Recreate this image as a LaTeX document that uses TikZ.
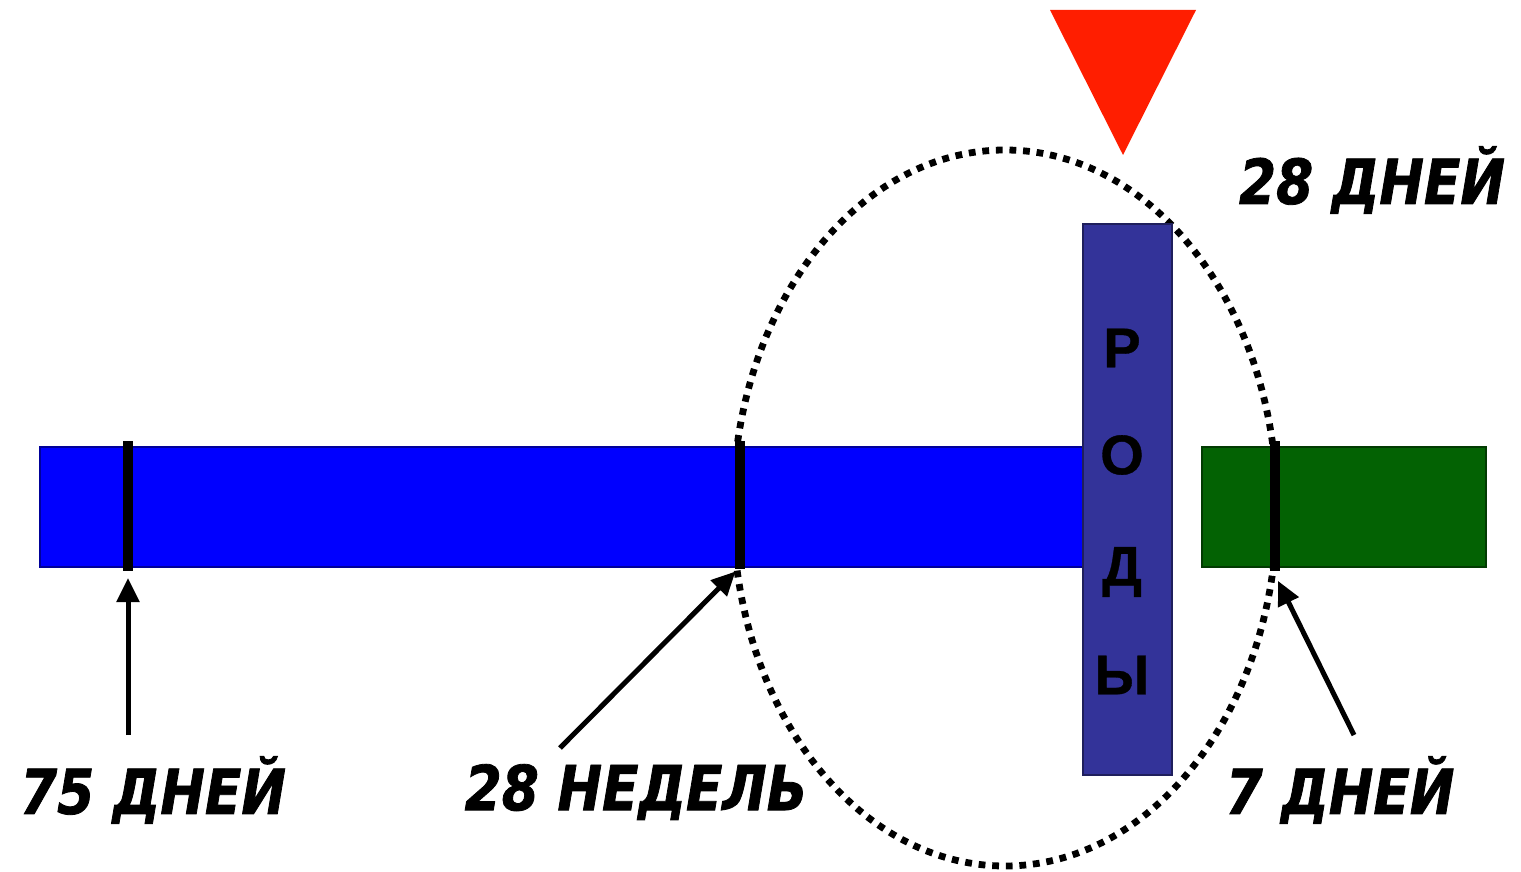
\documentclass[tikz,border=0pt]{standalone}
\usepackage{fontspec}
\usetikzlibrary{arrows.meta}
\newfontfamily\labfont[FakeStretch=0.86,FakeBold=1.3]{DejaVu Sans Bold Oblique}
\newfontfamily\rodyfont[FakeBold=0.6]{Liberation Sans Bold}
\definecolor{barblue}{HTML}{0000FF}
\definecolor{bargreen}{HTML}{036203}
\definecolor{rodyblue}{HTML}{333399}
\definecolor{trired}{HTML}{FF1E00}
\tikzset{
  bar/.style={draw=#1!60!black, line width=0.8pt, fill=#1, inner sep=0, outer sep=0},
  tick/.style={line width=5pt, black},
  pointer/.style={line width=2.5pt, black, -{Triangle[length=12pt,width=11pt]}, shorten >=1pt},
  lab/.style={font=\labfont\fontsize{31pt}{31pt}\selectfont, inner sep=0, text=black},
  rody/.style={font=\rodyfont\fontsize{28pt}{28pt}\selectfont, inner sep=0, text=black},
  dotring/.style={line width=3.4pt, dash pattern=on 3.4pt off 3.4pt},
}
\begin{document}
\begin{tikzpicture}[x=0.5pt,y=-0.5pt]
\useasboundingbox (0,0) rectangle (1521,872);
% dotted ellipse (behind the bars)
\coordinate (ec) at (1005,508);
\draw[dotring] (ec) ellipse [x radius=272, y radius=358];
% bars
\node[bar=barblue, minimum width=525pt, minimum height=60pt, anchor=north west] (blue) at (40,447) {};
\node[bar=bargreen, minimum width=142pt, minimum height=60pt, anchor=north west] (green) at (1202,447) {};
\node[bar=rodyblue, minimum width=44.5pt, minimum height=275.5pt, anchor=north west] (rody) at (1083,224) {};
\node[rody] (r1) at (1122,348) {Р};
\node[rody] (r2) at (1122,455) {О};
\node[rody] (r3) at (1122,572) {Д};
\node[rody] (r4) at (1122,675) {Ы};
% ticks
\coordinate (t1t) at (128,441); \coordinate (t1b) at (128,571);
\coordinate (t2t) at (740,441); \coordinate (t2b) at (740,569);
\coordinate (t3t) at (1275,441); \coordinate (t3b) at (1275,571);
\draw[tick] (t1t) -- (t1b);
\draw[tick] (t2t) -- (t2b);
\draw[tick] (t3t) -- (t3b);
% triangle
\coordinate (ta) at (1050,10); \coordinate (tb) at (1196,10); \coordinate (tc) at (1123,155);
\fill[trired] (ta) -- (tb) -- (tc) -- cycle;
% labels
\node[lab] (l1) at (153,790) {75 ДНЕЙ};
\node[lab] (l2) at (636,792) {28 НЕДЕЛЬ};
\node[lab] (l3) at (1340,790) {7 ДНЕЙ};
\node[lab] (l4) at (1372,180) {28 ДНЕЙ};
% arrows
\coordinate (a1) at (128,735);
\coordinate (a2) at (560,748);
\coordinate (a3) at (1354,735);
\draw[pointer] (a1) -- (128,576);
\draw[pointer] (a2) -- (737,570);
\draw[pointer] (a3) -- (1277,579);
\end{tikzpicture}
\end{document}
